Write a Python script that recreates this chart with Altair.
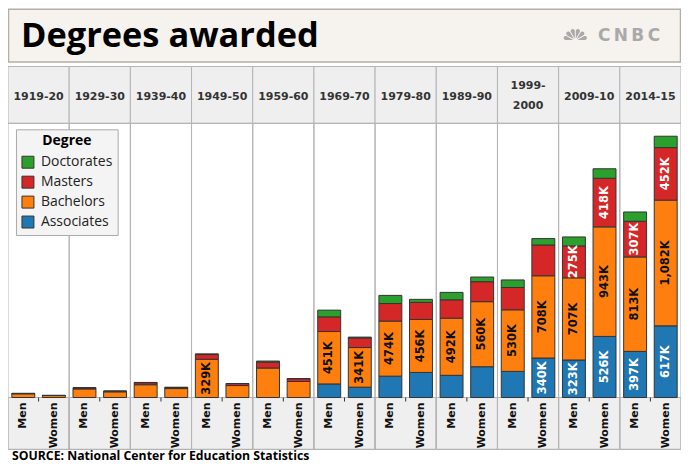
import altair as alt
import pandas as pd

# ---------------- data ----------------
periods = ["1919-20", "1929-30", "1939-40", "1949-50", "1959-60", "1969-70",
           "1979-80", "1989-90", "1999-2000", "2009-10", "2014-15"]
header_text = ["1919-20", "1929-30", "1939-40", "1949-50", "1959-60", "1969-70",
               "1979-80", "1989-90", "1999-\n2000", "2009-10", "2014-15"]
genders = ["Men", "Women"]
degrees = ["Associates", "Bachelors", "Masters", "Doctorates"]   # stack order, bottom first
legend_order = ["Doctorates", "Masters", "Bachelors", "Associates"]
legend_colors = ["#2ca02c", "#d62728", "#ff7f0e", "#1f77b4"]

# thousands of degrees
assoc_men = [0, 0, 0, 0, 0, 117, 184, 191, 225, 323, 397]
assoc_women = [0, 0, 0, 0, 0, 89, 216, 265, 340, 526, 617]
bach_men = [32, 74, 110, 329, 254, 451, 474, 492, 530, 707, 813]
bach_women = [17, 49, 77, 103, 138, 341, 456, 560, 708, 943, 1082]
mast_men = [3, 9, 17, 41, 51, 126, 151, 158, 192, 275, 307]
mast_women = [1, 6, 10, 17, 24, 83, 147, 172, 265, 418, 452]
doc_men = [0.5, 1.9, 2.9, 5.8, 8.8, 58, 70, 64, 65, 77, 80]
doc_women = [0.1, 0.4, 0.4, 0.6, 1.0, 7, 26, 40, 55, 82, 98]

# logo fan (peacock) wedge angles, radians
fan_start = [4.712, 5.236, 5.760, 0.000, 0.524, 1.047]
fan_end = [5.236, 5.760, 6.283, 0.524, 1.047, 1.571]

series = {
    ("Associates", "Men"): assoc_men, ("Associates", "Women"): assoc_women,
    ("Bachelors", "Men"): bach_men, ("Bachelors", "Women"): bach_women,
    ("Masters", "Men"): mast_men, ("Masters", "Women"): mast_women,
    ("Doctorates", "Men"): doc_men, ("Doctorates", "Women"): doc_women,
}
rows = []
for i, deg in enumerate(degrees):
    for g in genders:
        for p, v in zip(periods, series[(deg, g)]):
            rows.append({"period": p, "gender": g, "degree": deg, "ord": i, "value": v})
df = pd.DataFrame(rows)
cols = pd.DataFrame({"period": periods, "header": header_text})
gdf = pd.DataFrame([{"period": p, "gender": g} for p in periods for g in genders])
one = pd.DataFrame({"t": ["Degrees awarded"], "logo": ["C\u2009N\u2009B\u2009C"],
                    "src": ["SOURCE: National Center for Education Statistics"]})
fan = pd.DataFrame({"a": fan_start, "b": fan_end})

# ---------------- layout ----------------
W, H = 675, 275
STRIP = 52
GRID = "#b4b4b4"
FONT = "DejaVu Sans"

x_scale = alt.Scale(domain=periods, paddingInner=0, paddingOuter=0)
y_scale = alt.Scale(domain=[0, 2360], nice=False, zero=True)
xo_scale = alt.Scale(domain=genders, paddingInner=0.25, paddingOuter=0.125)
X = alt.X("period:N", scale=x_scale, sort=periods, axis=None)
XO = alt.XOffset("gender:N", scale=xo_scale, sort=genders)

base_cols = alt.Chart(cols)

header_bg = base_cols.mark_rect(fill="#efefef", stroke=GRID, strokeWidth=1).encode(
    x=X, y=alt.value(-57), y2=alt.value(0))
header_txt1 = base_cols.transform_filter("indexof(datum.header, '\\n') < 0").mark_text(
    font=FONT, fontWeight="bold", fontSize=11, color="#333", baseline="middle").encode(
    x=X, y=alt.value(-26), text="header:N")
header_txt2 = base_cols.transform_filter("indexof(datum.header, '\\n') >= 0").mark_text(
    font=FONT, fontWeight="bold", fontSize=11, color="#333", lineBreak="\n",
    lineHeight=20, baseline="middle").encode(
    x=X, y=alt.value(-37), text="header:N")
strip_bg = base_cols.mark_rect(fill="#efefef", stroke=GRID, strokeWidth=1).encode(
    x=X, y=alt.value(H), y2=alt.value(H + STRIP))
frames = base_cols.mark_rect(fillOpacity=0, stroke=GRID, strokeWidth=1).encode(
    x=X, y=alt.value(0), y2=alt.value(H + STRIP))
ticks = base_cols.mark_rule(color="#333", strokeWidth=1).encode(
    x=X, y=alt.value(H), y2=alt.value(H + 4))

stacked = alt.Chart(df).transform_filter("datum.value > 0").transform_stack(
    stack="value", groupby=["period", "gender"], as_=["v0", "v1"],
    sort=[alt.SortField("ord", order="ascending")])

bars = stacked.mark_bar(stroke="#333", strokeWidth=1).encode(
    x=X, xOffset=XO,
    y=alt.Y("v0:Q", scale=y_scale, axis=None), y2="v1:Q",
    color=alt.Color("degree:N", scale=alt.Scale(domain=legend_order, range=legend_colors),
                    legend=alt.Legend(
                        title="Degree", orient="none", legendX=8, legendY=6,
                        fillColor="#f4f4f4", strokeColor="#aaa", padding=5,
                        titleFont="Open Sans", titleFontSize=14, titleFontWeight="bold",
                        titleColor="#000", titleAnchor="middle", titleAlign="center",
                        titlePadding=7,
                        labelFont="Open Sans", labelFontSize=14, labelColor="#222",
                        labelOffset=6,
                        symbolType="square", symbolSize=144, symbolStrokeColor="#333",
                        symbolStrokeWidth=1, rowPadding=4)),
)

bar_labels = stacked.transform_calculate(
    mid="(datum.v0 + datum.v1) / 2",
    lab="format(datum.value, ',') + 'K'",
).transform_filter("datum.value >= 270").mark_text(
    angle=270, align="center", baseline="middle", font=FONT, fontWeight="bold", fontSize=11.5
).encode(
    x=X, xOffset=XO, y=alt.Y("mid:Q", scale=y_scale, axis=None), text="lab:N",
    color=alt.condition("datum.degree == 'Bachelors'", alt.value("#111"), alt.value("#fff")),
)

gender_labels = alt.Chart(gdf).mark_text(
    angle=270, align="right", baseline="middle", font=FONT, fontWeight="bold",
    fontSize=11, color="#111").encode(
    x=X, xOffset=XO, y=alt.value(H + 5), text="gender:N")

base_one = alt.Chart(one)
title_box = base_one.mark_rect(fill="#f6f2ee", stroke="#b5aea6", strokeWidth=1.5).encode(
    x=alt.value(0.5), x2=alt.value(W - 0.5), y=alt.value(-114.5), y2=alt.value(-61.5))
title_txt = base_one.mark_text(align="left", baseline="alphabetic", font="Open Sans",
                               fontWeight="bold", fontSize=34.5, color="#000").encode(
    x=alt.value(13), y=alt.value(-77), text="t:N")
logo_txt = base_one.mark_text(align="right", baseline="alphabetic", font=FONT,
                              fontWeight="bold", fontSize=17, color="#a9a9a9").encode(
    x=alt.value(654), y=alt.value(-83), text="logo:N")
logo_fan = alt.Chart(fan).mark_arc(innerRadius=2.5, outerRadius=12, cornerRadius=3,
                                   padAngle=0.08, color="#a9a9a9").encode(
    theta=alt.Theta("a:Q", scale=None), theta2="b:Q",
    x=alt.value(569), y=alt.value(-83))
source_txt = base_one.mark_text(align="left", baseline="alphabetic", font="Open Sans",
                                fontWeight="bold", fontSize=12.3, color="#000").encode(
    x=alt.value(4), y=alt.value(H + 63), text="src:N")

chart = alt.layer(
    header_bg, header_txt1, header_txt2, strip_bg, frames, bars, bar_labels, gender_labels,
    ticks, title_box, title_txt, logo_fan, logo_txt, source_txt,
).properties(
    width=W, height=H,
    padding={"left": 0, "top": 115, "right": 0, "bottom": 65},
    autosize="none",
).configure_view(strokeWidth=0).resolve_scale(color="shared")

chart.save("out.html", embed_options={"renderer": "svg", "actions": False})
